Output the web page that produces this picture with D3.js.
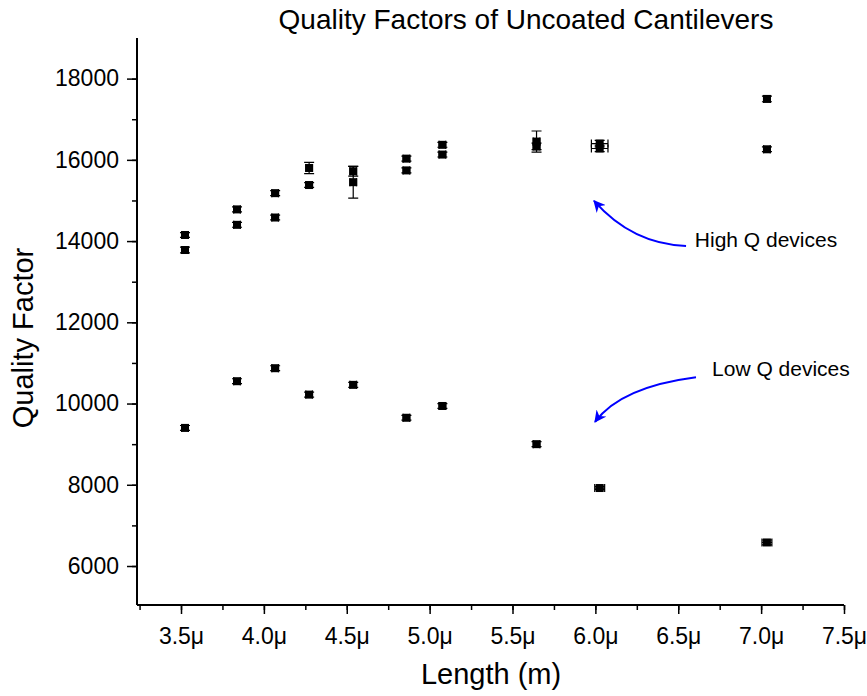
<!DOCTYPE html>
<html>
<head>
<meta charset="utf-8">
<script src="https://cdn.jsdelivr.net/npm/d3@7"></script>
<style>
  body { margin: 0; background: #fff; }
  text { font-family: Arial, "Liberation Sans", sans-serif; }
</style>
</head>
<body>
<div class="chart-box"></div>
<script>
// Cantilever lengths (in µm units on the axis)
const highLength = [3.524, 3.524, 3.838, 3.838, 4.068, 4.068, 4.273, 4.273, 4.539, 4.539,
                    4.86, 4.86, 5.077, 5.077, 5.645, 5.645, 6.026, 6.026, 7.035, 7.035];
const highQ = [14150, 13780, 14780, 14400, 15180, 14580, 15800, 15380, 15720, 15450,
               16030, 15740, 16370, 16130, 16450, 16330, 16400, 16280, 17500, 16260];
const highQErr = [60, 70, 60, 60, 60, 60, 140, 60, 120, 390,
                  60, 60, 60, 60, 260, 80, 80, 80, 70, 60];
const highLenErr = [0.02, 0.02, 0.02, 0.02, 0.02, 0.02, 0.02, 0.02, 0.02, 0.02,
                    0.02, 0.02, 0.02, 0.02, 0.02, 0.02, 0.05, 0.05, 0.02, 0.02];

const lowLength = [3.524, 3.838, 4.068, 4.273, 4.539, 4.86, 5.077, 5.645, 6.026, 7.035];
const lowQ = [9400, 10550, 10870, 10220, 10460, 9650, 9940, 9000, 7920, 6580];
const lowQErr = [60, 60, 60, 60, 60, 60, 60, 60, 40, 60];
const lowLenErr = [0.02, 0.02, 0.02, 0.02, 0.02, 0.02, 0.02, 0.02, 0.03, 0.03];

const xTicks = [3.5, 4.0, 4.5, 5.0, 5.5, 6.0, 6.5, 7.0, 7.5];
const yTicks = [6000, 8000, 10000, 12000, 14000, 16000, 18000];

// Annotations: label position, arrow start, control point, arrow tip (data coords)
const notes = [
  { text: 'High Q devices', tx: 6.60, ty: 13850, from: [6.547, 13880], via: [6.221, 13930], to: [5.992, 14990] },
  { text: 'Low Q devices', tx: 6.704, ty: 10680, from: [6.607, 10650], via: [6.152, 10410], to: [5.998, 9550] }
];

const W = 867, H = 696;
const FONT = 'Arial, "Liberation Sans", sans-serif';

const svg = d3.select('.chart-box')
  .append('svg')
    .attr('width', W)
    .attr('height', H);

const x = d3.scaleLinear().domain([3.2345, 7.5]).range([137, 844]);
const y = d3.scaleLinear().domain([5040, 19000]).range([605, 38]);

// axes
svg.append('g')
  .attr('transform', 'translate(0,605)')
  .call(d3.axisBottom(x).tickValues(d3.range(3.25, 7.51, 0.25)).tickSize(5).tickFormat(''))
  .call(g => g.select('.domain').remove())
  .call(g => g.selectAll('line').attr('stroke-width', 1.5));

svg.append('g')
  .attr('transform', 'translate(0,605)')
  .call(d3.axisBottom(x).tickValues(xTicks).tickSize(9).tickPadding(14)
    .tickFormat(d => d3.format('.1f')(d) + 'μ'))
  .call(g => g.select('.domain').attr('d', 'M' + x.range()[0] + ',0H' + x.range()[1]).attr('stroke-width', 2))
  .call(g => g.selectAll('line').attr('stroke-width', 1.5))
  .call(g => g.selectAll('text').attr('font-size', 23).attr('fill', '#000').attr('font-family', FONT));

svg.append('g')
  .attr('transform', 'translate(137,0)')
  .call(d3.axisLeft(y).tickValues(d3.range(6000, 19000, 1000)).tickSize(5).tickFormat(''))
  .call(g => g.select('.domain').remove())
  .call(g => g.selectAll('line').attr('stroke-width', 1.5));

svg.append('g')
  .attr('transform', 'translate(137,0)')
  .call(d3.axisLeft(y).tickValues(yTicks).tickSize(10).tickPadding(8).tickFormat(d3.format('d')))
  .call(g => g.select('.domain').attr('d', 'M0,' + y.range()[0] + 'V' + y.range()[1]).attr('stroke-width', 2))
  .call(g => g.selectAll('line').attr('stroke-width', 1.5))
  .call(g => g.selectAll('text').attr('font-size', 23).attr('fill', '#000').attr('font-family', FONT));

// titles
svg.append('text')
  .attr('x', 526).attr('y', 29)
  .attr('text-anchor', 'middle')
  .attr('font-size', 28)
  .text('Quality Factors of Uncoated Cantilevers');

svg.append('text')
  .attr('x', 491).attr('y', 684)
  .attr('text-anchor', 'middle')
  .attr('font-size', 29)
  .text('Length (m)');

svg.append('text')
  .attr('transform', 'translate(33,338) rotate(-90)')
  .attr('text-anchor', 'middle')
  .attr('font-size', 29)
  .text('Quality Factor');

// data points with error bars
let points = highLength.map((l, i) => ({ l: l, q: highQ[i], qe: highQErr[i], le: highLenErr[i] }))
  .concat(lowLength.map((l, i) => ({ l: l, q: lowQ[i], qe: lowQErr[i], le: lowLenErr[i] })));

let pts = svg.append('g').attr('class', 'points');
const cap = 4;
points.forEach(d => {
  let px = x(d.l), py = y(d.q);
  let y0 = y(d.q - d.qe), y1 = y(d.q + d.qe);
  let x0 = x(d.l - d.le), x1 = x(d.l + d.le);
  let path = 'M' + px + ',' + y0 + 'V' + y1 +
    'M' + (px - cap - 1) + ',' + y0 + 'H' + (px + cap + 1) +
    'M' + (px - cap - 1) + ',' + y1 + 'H' + (px + cap + 1) +
    'M' + x0 + ',' + py + 'H' + x1 +
    'M' + x0 + ',' + (py - cap) + 'V' + (py + cap) +
    'M' + x1 + ',' + (py - cap) + 'V' + (py + cap);
  pts.append('path')
    .attr('d', path)
    .attr('stroke', '#000')
    .attr('stroke-width', 1.2)
    .attr('fill', 'none');
  pts.append('rect')
    .attr('x', px - 4).attr('y', py - 4)
    .attr('width', 8).attr('height', 8)
    .attr('fill', '#000');
});

// annotations
svg.append('defs').append('marker')
  .attr('id', 'arrow')
  .attr('viewBox', '0 0 10 10')
  .attr('refX', 9).attr('refY', 5)
  .attr('markerWidth', 6).attr('markerHeight', 6)
  .attr('orient', 'auto')
  .append('path')
    .attr('d', 'M0,0L10,5L0,10L3,5Z')
    .attr('fill', '#0000ff');

notes.forEach(n => {
  svg.append('path')
    .attr('d', 'M' + x(n.from[0]) + ',' + y(n.from[1]) +
      'Q' + x(n.via[0]) + ',' + y(n.via[1]) + ' ' + x(n.to[0]) + ',' + y(n.to[1]))
    .attr('stroke', '#0000ff')
    .attr('stroke-width', 2)
    .attr('fill', 'none')
    .attr('marker-end', 'url(#arrow)');
  svg.append('text')
    .attr('x', x(n.tx)).attr('y', y(n.ty))
    .attr('font-size', 21)
    .text(n.text);
});
</script>
</body>
</html>
